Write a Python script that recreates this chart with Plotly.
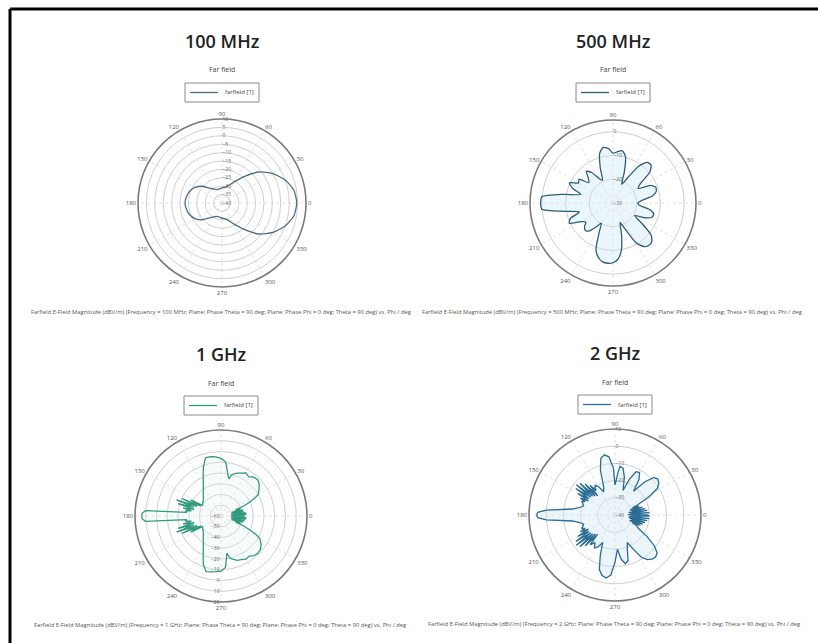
import plotly.graph_objects as go

# ---- 100 MHz cut (dBV/m), 10 degree steps ----
phi_100 = [0, 10, 20, 30, 40, 50, 60, 70, 80, 90, 100, 110, 120, 130, 140, 150, 160, 170,
           180, 190, 200, 210, 220, 230, 240, 250, 260, 270, 280, 290, 300, 310, 320, 330, 340, 350, 360]
e_100 = [4.5, 3.5, 0.0, -5.0, -11.3, -19.5, -25.5, -29.0, -30.5, -31.0, -31.5, -31.5, -30.5, -28.5,
         -24.5, -21.5, -19.5, -18.5, -18.0, -18.5, -19.5, -21.5, -24.5, -28.5, -30.5, -31.5, -31.5,
         -31.0, -30.5, -29.0, -25.5, -19.5, -11.3, -5.0, 0.0, 3.5, 4.5]

# ---- 500 MHz cut (dBV/m), 5 degree steps ----
phi_500 = [0, 5, 10, 15, 20, 25, 30, 35, 40, 45, 50, 55, 60, 65, 70, 75, 80, 85, 90, 95, 100, 105,
           110, 115, 120, 125, 130, 135, 140, 145, 150, 155, 160, 165, 170, 175, 180, 185, 190, 195,
           200, 205, 210, 215, 220, 225, 230, 235, 240, 245, 250, 255, 260, 265, 270, 275, 280, 285,
           290, 295, 300, 305, 310, 315, 320, 325, 330, 335, 340, 345, 350, 355, 360]
e_500 = [-19.5, -17.8, -13.2, -11.1, -10.8, -12.5, -17.8, -16.0, -9.7, -7.3, -7.6, -10.8, -17.8,
         -21.3, -16.0, -9.7, -7.6, -8.3, -9.0, -6.9, -6.2, -8.3, -14.3, -19.5, -17.8, -14.3, -12.5,
         -15.3, -16.7, -12.5, -13.2, -9.7, -11.8, -16.0, -9.0, 0.1, 0.5, 0.1, -9.7, -15.3, -10.8,
         -9.7, -14.3, -16.0, -14.3, -13.6, -14.6, -17.8, -20.2, -16.0, -9.0, -6.2, -4.8, -4.5, -4.8,
         -6.2, -9.7, -16.0, -21.3, -17.8, -10.8, -7.6, -6.6, -6.9, -9.0, -15.3, -19.5, -15.3, -12.5,
         -12.2, -14.3, -18.8, -19.5]

# ---- 1 GHz cut (dBV/m) ----
phi_1g = [0, 2, 4, 6, 8, 10, 12, 14, 16, 18, 20, 22, 24, 26, 28, 30, 35, 40, 45, 50, 55, 60, 65, 70,
          75, 78, 81, 85, 90, 95, 100, 105, 110, 115, 120, 125, 130, 135, 140, 145, 150, 152, 154,
          156, 158, 160, 162, 164, 166, 168, 170, 172, 174, 176, 178, 180, 182, 184, 186, 188, 190,
          192, 194, 196, 198, 200, 202, 204, 206, 208, 210, 215, 220, 225, 230, 235, 240, 245, 250,
          255, 260, 265, 270, 275, 279, 282, 285, 290, 295, 300, 305, 310, 315, 320, 325, 330, 332,
          334, 336, 338, 340, 342, 344, 346, 348, 350, 352, 354, 356, 358, 360]
e_1g = [-37.6, -50.4, -36.0, -48.8, -36.8, -50.4, -38.4, -48.0, -39.2, -49.6, -40.8, -45.6, -36.0,
        -29.6, -24.0, -20.0, -16.8, -13.6, -12.0, -12.8, -15.2, -13.6, -16.0, -17.6, -20.0, -24.8,
        -20.0, -9.6, -6.4, -4.8, -4.0, -4.0, -12.0, -20.8, -27.2, -31.2, -34.4, -36.8, -38.4, -39.2,
        -40.0, -28.0, -39.2, -20.0, -36.0, -16.0, -33.6, -18.4, -34.4, -24.0, -32.0, -26.4, -28.0,
        10.4, 13.6, 13.6, 13.6, 10.4, -28.0, -26.4, -32.0, -24.0, -34.4, -18.4, -33.6, -16.0, -36.0,
        -20.0, -39.2, -28.0, -40.0, -39.2, -38.4, -36.8, -34.4, -31.2, -27.2, -20.8, -12.0, -6.4,
        -7.2, -8.0, -8.8, -12.0, -24.8, -20.0, -18.4, -16.0, -15.2, -13.6, -14.4, -12.0, -11.2, -12.0,
        -14.4, -18.4, -23.2, -29.6, -36.0, -45.6, -40.8, -49.6, -39.2, -48.0, -37.6, -50.4, -36.8,
        -48.8, -36.0, -50.4, -37.6]

# ---- 2 GHz cut (dBV/m) ----
phi_2g = [0, 2, 4, 6, 8, 10, 12, 14, 16, 18, 20, 22, 24, 28, 32, 36, 40, 44, 48, 52, 56, 60, 64, 68,
          72, 76, 80, 84, 86, 88, 90, 92, 96, 100, 104, 108, 112, 116, 120, 124, 128, 130, 132, 134,
          136, 138, 140, 142, 144, 146, 148, 150, 152, 154, 156, 158, 160, 164, 168, 172, 176, 178,
          180, 182, 184, 188, 192, 196, 200, 202, 204, 206, 208, 210, 212, 214, 216, 218, 220, 222,
          224, 226, 228, 230, 234, 238, 242, 246, 250, 254, 258, 262, 266, 270, 274, 278, 282, 286,
          290, 294, 298, 302, 306, 310, 314, 318, 322, 326, 330, 334, 336, 338, 340, 342, 344, 346,
          348, 350, 352, 354, 356, 358, 360]
e_2g = [-21.0, -32.5, -20.0, -31.0, -21.0, -32.0, -22.0, -30.0, -23.5, -31.0, -25.0, -29.0, -26.0,
        -17.5, -11.0, -8.5, -7.5, -8.5, -14.0, -22.5, -15.0, -11.5, -12.0, -17.5, -25.0, -17.5, -12.5,
        -11.5, -15.0, -20.0, -22.5, -12.5, -6.0, -4.5, -6.0, -12.5, -22.5, -25.0, -21.0, -19.0, -22.0,
        -17.5, -25.0, -15.0, -24.0, -12.5, -23.0, -11.5, -22.5, -12.5, -22.0, -15.0, -22.5, -17.5,
        -21.0, -19.0, -20.0, -21.0, -19.0, -15.0, 0.0, 5.0, 5.5, 5.0, 0.0, -15.0, -19.0, -21.0, -20.0,
        -19.0, -21.0, -17.5, -22.5, -15.0, -22.0, -12.5, -22.5, -11.5, -23.0, -12.5, -24.0, -15.0,
        -25.0, -17.5, -20.0, -17.5, -19.0, -22.5, -15.0, -7.0, -4.0, -3.0, -5.0, -12.5, -20.0, -14.0,
        -11.0, -12.5, -19.0, -22.5, -17.5, -11.0, -8.0, -6.5, -6.0, -7.0, -11.0, -17.5, -24.0, -26.0,
        -29.0, -24.0, -31.0, -23.0, -30.0, -22.0, -31.5, -21.0, -32.0, -20.0, -31.0, -20.0, -21.0]

titles = ["100 MHz", "500 MHz", "1 GHz", "2 GHz"]
freq_text = ["100 MHz", "500 MHz", "1 GHz", "2 GHz"]
legend_names = ["farfield [1]", "farfield [1]", "farfield [1]", "farfield [1]"]
radial_ranges = [[-40, 10], [-30, 5], [-60, 20], [-40, 10]]
radial_dticks = [5, 10, 10, 10]
radial_angles = [90, 90, 270, 90]
angle_ticks = [0, 30, 60, 90, 120, 150, 180, 210, 240, 270, 300, 330]

line_colors = ["#4f6d80", "#2d5d74", "#2f9a7c", "#2b6c92"]
fill_colors = ["rgba(0,0,0,0)", "rgba(205,232,243,0.40)", "rgba(225,244,238,0.25)",
               "rgba(205,230,243,0.40)"]
line_shapes = ["spline", "spline", "linear", "linear"]

# panel geometry in pixels: centre x, centre y (from top), radius
W, H = 818, 643
panels = [(222, 203, 84), (613, 203, 83), (221, 516, 86), (615, 515, 86)]

series = [(phi_100, e_100), (phi_500, e_500), (phi_1g, e_1g), (phi_2g, e_2g)]


def px(x):
    return x / W


def py(y):
    return 1 - y / H


fig = go.Figure()
layout = dict(
    width=W, height=H, margin=dict(l=0, r=0, t=0, b=0),
    paper_bgcolor="white", plot_bgcolor="white",
    font=dict(family="Open Sans, Arial, sans-serif", color="#333"),
    annotations=[], shapes=[], showlegend=False,
)

for i, ((phi, e), (cx, cy, rad)) in enumerate(zip(series, panels)):
    pid = "polar" if i == 0 else f"polar{i + 1}"
    fig.add_trace(go.Scatterpolar(
        r=e, theta=phi, mode="lines", name=legend_names[i],
        line=dict(color=line_colors[i], width=1.3, shape=line_shapes[i], smoothing=0.6),
        fill="toself", fillcolor=fill_colors[i], subplot=pid,
    ))
    layout[pid] = dict(
        domain=dict(x=[px(cx - rad), px(cx + rad)], y=[py(cy + rad), py(cy - rad)]),
        bgcolor="white",
        radialaxis=dict(range=radial_ranges[i], dtick=radial_dticks[i], angle=radial_angles[i],
                        tickangle=radial_angles[i], showline=False, ticks="",
                        gridcolor="#cfcfcf", gridwidth=0.7,
                        tickfont=dict(size=5, color="#666")),
        angularaxis=dict(rotation=0, direction="counterclockwise", tickvals=angle_ticks,
                         ticktext=[str(a) for a in angle_ticks], showline=True,
                         linecolor="#7a7a7a", linewidth=1.6, gridcolor="#e6e0e6",
                         griddash="dot", ticks="", tickfont=dict(size=6, color="#555")),
    )
    # panel title and subtitle
    layout["annotations"].append(dict(
        text=titles[i], x=px(cx), y=py(cy - 162), xref="paper", yref="paper",
        showarrow=False, xanchor="center", yanchor="middle",
        font=dict(size=18, color="#222", weight=600)))
    layout["annotations"].append(dict(
        text="Far field", x=px(cx), y=py(cy - 133), xref="paper", yref="paper",
        showarrow=False, xanchor="center", yanchor="middle",
        font=dict(size=7, color="#444")))
    # legend box: frame, line sample and series name
    layout["shapes"].append(dict(
        type="rect", xref="paper", yref="paper",
        x0=px(cx - 37), x1=px(cx + 37), y0=py(cy - 101), y1=py(cy - 120),
        line=dict(color="#8a8a8a", width=1), fillcolor="white"))
    layout["shapes"].append(dict(
        type="line", xref="paper", yref="paper",
        x0=px(cx - 32), x1=px(cx - 4), y0=py(cy - 110.5), y1=py(cy - 110.5),
        line=dict(color=line_colors[i], width=1.3)))
    layout["annotations"].append(dict(
        text=legend_names[i], x=px(cx + 1), y=py(cy - 110.5), xref="paper", yref="paper",
        showarrow=False, xanchor="left", yanchor="middle",
        font=dict(size=6, color="#444")))
    # caption under each panel
    layout["annotations"].append(dict(
        text=(f"Farfield E-Field Magnitude (dBV/m) (Frequency = {freq_text[i]}; Plane: Phase "
              "Theta = 90 deg; Plane: Phase Phi = 0 deg; Theta = 90 deg) vs. Phi / deg"),
        x=px(cx - 1), y=py(cy + 109), xref="paper", yref="paper",
        showarrow=False, xanchor="center", yanchor="middle",
        font=dict(size=5.8, color="#555")))

# frame lines along the top and left edges
layout["shapes"].append(dict(type="line", xref="paper", yref="paper",
                             x0=px(10), x1=1, y0=py(9), y1=py(9),
                             line=dict(color="black", width=3)))
layout["shapes"].append(dict(type="line", xref="paper", yref="paper",
                             x0=px(10), x1=px(10), y0=0, y1=py(9),
                             line=dict(color="black", width=3)))

fig.update_layout(**layout)
fig.write_html("out.html")
